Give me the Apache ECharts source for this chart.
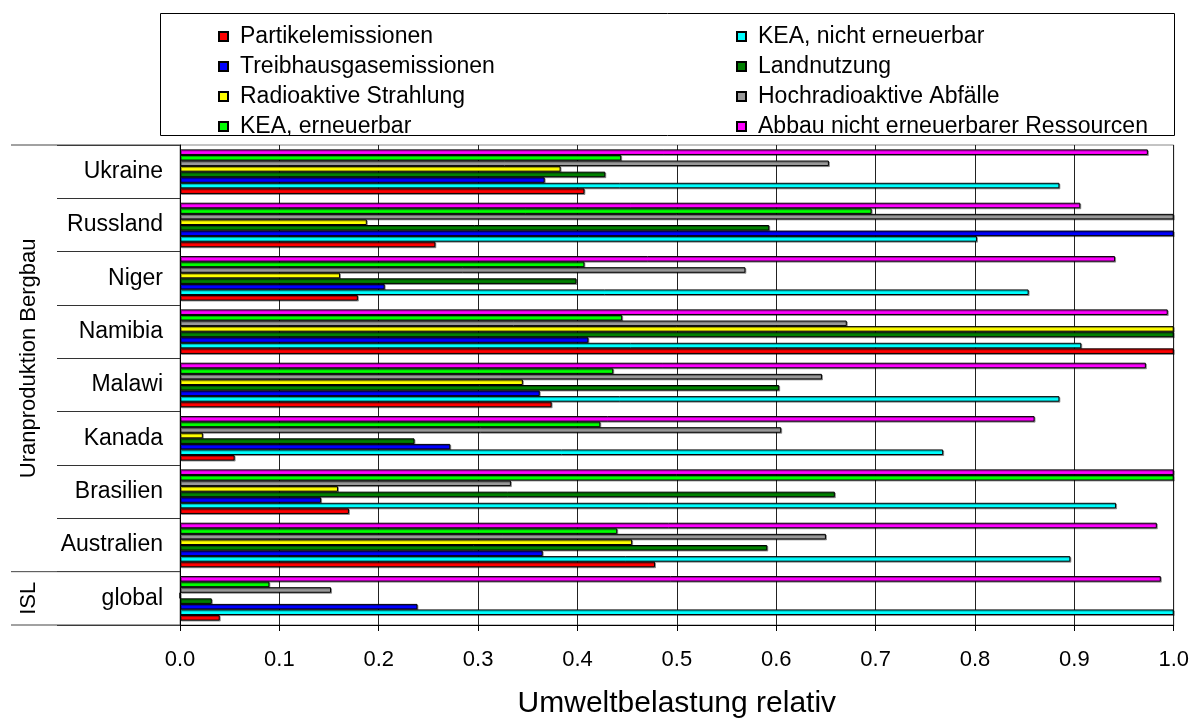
<!DOCTYPE html>
<html>
<head>
<meta charset="utf-8">
<script src="https://cdn.jsdelivr.net/npm/echarts@6/dist/echarts.min.js"></script>
<style>
html,body{margin:0;padding:0;background:#fff;}
#c{width:1192px;height:724px;}
</style>
</head>
<body>
<div id="c"></div>
<script>
// categories, bottom to top
const categories = ['global','Australien','Brasilien','Kanada','Malawi','Namibia','Niger','Russland','Ukraine'];
const xTicks = [0,0.1,0.2,0.3,0.4,0.5,0.6,0.7,0.8,0.9,1.0];
const groupLabels = ['Uranproduktion Bergbau','ISL'];
const axisTitle = 'Umweltbelastung relativ';

const partikel      = [0.040,0.478,0.170,0.055,0.374,1.000,0.179,0.257,0.407];
const keaNicht      = [1.000,0.896,0.942,0.768,0.885,0.907,0.854,0.802,0.885];
const treibhaus     = [0.239,0.365,0.142,0.272,0.362,0.411,0.206,1.000,0.367];
const landnutzung   = [0.032,0.591,0.659,0.236,0.603,1.000,0.399,0.593,0.428];
const radioaktiv    = [0.000,0.455,0.159,0.023,0.345,1.000,0.161,0.188,0.383];
const hochradioakt  = [0.152,0.650,0.333,0.605,0.646,0.671,0.569,1.000,0.653];
const keaErneuerbar = [0.090,0.440,1.000,0.423,0.436,0.445,0.407,0.696,0.444];
const abbau         = [0.987,0.983,1.000,0.860,0.972,0.994,0.941,0.906,0.974];

const seriesDefs = [
  ['Partikelemissionen', partikel, '#FF0000'],
  ['KEA, nicht erneuerbar', keaNicht, '#00FFFF'],
  ['Treibhausgasemissionen', treibhaus, '#0000FF'],
  ['Landnutzung', landnutzung, '#008000'],
  ['Radioaktive Strahlung', radioaktiv, '#FFFF00'],
  ['Hochradioaktive Abfälle', hochradioakt, '#999999'],
  ['KEA, erneuerbar', keaErneuerbar, '#00FF00'],
  ['Abbau nicht erneuerbarer Ressourcen', abbau, '#FF00FF']
];
const legendCol1 = ['Partikelemissionen','Treibhausgasemissionen','Radioaktive Strahlung','KEA, erneuerbar'];
const legendCol2 = ['KEA, nicht erneuerbar','Landnutzung','Hochradioaktive Abfälle','Abbau nicht erneuerbarer Ressourcen'];

const FONT = '"Liberation Sans", Arial, sans-serif';

// ECharts places the first series at the top of a band: reverse so the first legend item is at the bottom
const series = seriesDefs.slice().reverse().map(d => ({
  name: d[0], type: 'bar', data: d[1],
  barCategoryGap: '16.5%', barGap: '0%',
  itemStyle: { color: d[2], borderColor: '#000', borderWidth: 1,
               shadowColor: 'rgba(0,0,0,0.35)', shadowOffsetX: 1, shadowOffsetY: 1, shadowBlur: 0 },
  emphasis: { disabled: true }
}));

const legendCommon = {
  orient: 'vertical', top: 20, itemWidth: 9, itemHeight: 9, itemGap: 7, icon: 'rect',
  selectedMode: false, z: 5,
  textStyle: { fontFamily: FONT, fontSize: 23, lineHeight: 23, color: '#000', padding: [0,0,0,7] }
};

const option = {
  animation: false,
  textStyle: { fontFamily: FONT },
  grid: { left: 180, right: 18, top: 145, bottom: 96, show: true, borderColor: '#888', borderWidth: 1, containLabel: false },
  legend: [
    Object.assign({}, legendCommon, { left: 213, data: legendCol1 }),
    Object.assign({}, legendCommon, { left: 731, data: legendCol2 })
  ],
  xAxis: {
    type: 'value', min: xTicks[0], max: xTicks[xTicks.length-1], interval: 0.1,
    name: axisTitle, nameLocation: 'middle', nameGap: 64,
    nameTextStyle: { fontFamily: FONT, fontSize: 30, color: '#000' },
    axisLine: { show: true, lineStyle: { color: '#000', width: 1 } },
    axisTick: { show: true, length: 6, lineStyle: { color: '#000' } },
    axisLabel: { fontFamily: FONT, fontSize: 22, color: '#000', margin: 24, formatter: v => v.toFixed(1) },
    splitLine: { show: true, lineStyle: { color: '#222', width: 1 } }
  },
  yAxis: {
    type: 'category', data: categories,
    axisLine: { show: true, lineStyle: { color: '#000', width: 1 } },
    axisTick: { show: true, length: 123, interval: 0, lineStyle: { color: '#333' } },
    axisLabel: { fontFamily: FONT, fontSize: 23, color: '#000', margin: 17, interval: 0 },
    splitLine: { show: false }
  },
  series: series
};

const chart = echarts.init(document.getElementById('c'), null, { renderer: 'canvas' });
chart.setOption(option);

const yc = c => chart.convertToPixel({ yAxisIndex: 0 }, c);
const band = Math.abs(yc(categories[0]) - yc(categories[1]));
const yTop = yc(categories[categories.length - 1]) - band / 2;
const yBottom = yc(categories[0]) + band / 2;
const ySplit = (yc(categories[0]) + yc(categories[1])) / 2;
const xLeft = chart.convertToPixel({ xAxisIndex: 0 }, 0);
const lineStyle = { stroke: '#444', lineWidth: 1 };

chart.setOption({
  graphic: [
    { type: 'rect', z: 0, shape: { x: 160.5, y: 13.5, width: 1014, height: 122 }, style: { fill: '#fff', stroke: '#000', lineWidth: 1 } },
    { type: 'line', z: 10, shape: { x1: 11, y1: yTop, x2: xLeft, y2: yTop }, style: lineStyle },
    { type: 'line', z: 10, shape: { x1: 11, y1: ySplit, x2: xLeft, y2: ySplit }, style: lineStyle },
    { type: 'line', z: 10, shape: { x1: 11, y1: yBottom, x2: xLeft, y2: yBottom }, style: lineStyle },
    { type: 'text', z: 10, x: 29, y: (yTop + ySplit) / 2, rotation: Math.PI / 2,
      style: { text: groupLabels[0], font: '22px ' + FONT, fill: '#000', align: 'center', verticalAlign: 'middle' } },
    { type: 'text', z: 10, x: 29, y: (ySplit + yBottom) / 2, rotation: Math.PI / 2,
      style: { text: groupLabels[1], font: '22px ' + FONT, fill: '#000', align: 'center', verticalAlign: 'middle' } }
  ]
});
</script>
</body>
</html>
